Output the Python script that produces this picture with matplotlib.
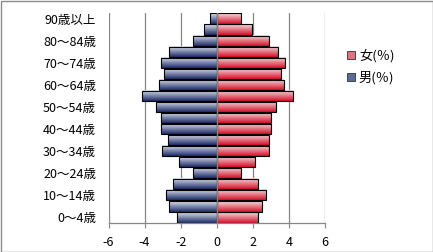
import numpy as np
import matplotlib
matplotlib.use("Agg")
import matplotlib.pyplot as plt
from matplotlib.patches import Rectangle, Patch
from matplotlib.colors import to_rgb

plt.rcParams['font.family'] = ['Noto Sans CJK JP', 'DejaVu Sans']

categories = ["0～4歳", "5～9歳", "10～14歳", "15～19歳", "20～24歳", "25～29歳",
              "30～34歳", "35～39歳", "40～44歳", "45～49歳", "50～54歳", "55～59歳",
              "60～64歳", "65～69歳", "70～74歳", "75～79歳", "80～84歳", "85～89歳",
              "90歳以上"]
male = [2.18, 2.62, 2.84, 2.40, 1.34, 2.12, 3.01, 2.68, 3.07, 3.07, 3.34, 4.12,
        3.21, 2.95, 3.10, 2.66, 1.34, 0.68, 0.40]
female = [2.27, 2.49, 2.71, 2.27, 1.32, 2.10, 2.88, 2.88, 2.99, 2.99, 3.29, 4.21,
          3.71, 3.55, 3.77, 3.40, 2.88, 1.95, 1.32]
series_labels = ["女(％)", "男(％)"]
xticks = [-6, -4, -2, 0, 2, 4, 6]

W, H = 433, 252
fig = plt.figure(figsize=(W / 100, H / 100), dpi=100)
ax = fig.add_axes([108.5 / W, 1 - 223 / H, (325 - 108.5) / W, (223 - 13) / H])

y = np.arange(len(categories))
bh = 0.92

def grad(light, dark, n=64):
    l = np.array(to_rgb(light)); d = np.array(to_rgb(dark))
    t = np.linspace(0, 1, n)[:, None]
    return (l * (1 - t) + d * t)[:, None, :]

blue_g = grad("#dfe4f0", "#1c2a66")
red_g = grad("#f8dde0", "#d4102a")

mb = ax.barh(y, [-v for v in male], height=bh, facecolor="none", edgecolor="black", linewidth=0.8, zorder=3)
fb = ax.barh(y, female, height=bh, facecolor="none", edgecolor="black", linewidth=0.8, zorder=3)
for bars, g in ((mb, blue_g), (fb, red_g)):
    for b in bars:
        x0, y0 = b.get_x(), b.get_y()
        w, h = b.get_width(), b.get_height()
        ax.imshow(g, extent=(min(x0, x0 + w), max(x0, x0 + w), y0, y0 + h),
                  aspect="auto", origin="upper", zorder=2, interpolation="bilinear")

ax.set_xlim(-6, 6)
ax.set_ylim(-0.5, len(categories) - 0.5)
ax.set_xticks(xticks)
ax.set_xticklabels([str(t) for t in xticks])
ax.set_yticks(y[::2])
ax.set_yticklabels(categories[::2])
for t in xticks:
    if t != 0:
        ax.axvline(t, color="#868686", linewidth=0.9, zorder=1)
ax.axvline(0, color="#868686", linewidth=1.0, zorder=4)

for s in ["top", "right", "left"]:
    ax.spines[s].set_visible(False)
ax.spines["bottom"].set_color("#868686")
ax.spines["bottom"].set_linewidth(0.9)
ax.tick_params(axis="x", direction="out", length=3.5, color="#868686", labelsize=9, pad=5.5)
ax.tick_params(axis="y", length=0, labelsize=9, pad=9)

handles = [Patch(facecolor="#e2707e", edgecolor="#333333", linewidth=0.6),
           Patch(facecolor="#5a6a9a", edgecolor="#333333", linewidth=0.6)]
fig.legend(handles, series_labels, loc="center left", bbox_to_anchor=(347 / W, 1 - 67 / H),
           frameon=False, fontsize=9.5, handlelength=0.6, handleheight=0.6,
           handletextpad=0.3, labelspacing=0.65, borderaxespad=0, borderpad=0)

fig.patches.append(Rectangle((0.5 / W, 0.5 / H), 1 - 1 / W, 1 - 1 / H, transform=fig.transFigure,
                             fill=False, edgecolor="#8c8c8c", linewidth=1.0))
fig.savefig("out.png", dpi=100)
